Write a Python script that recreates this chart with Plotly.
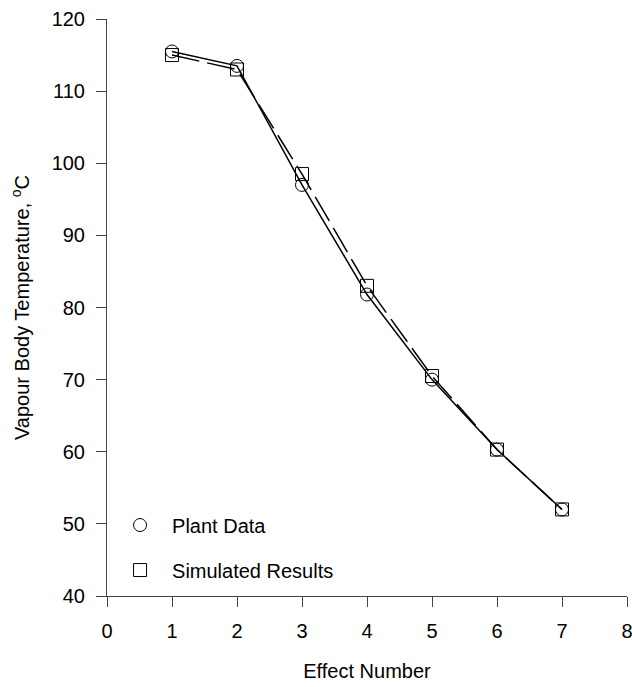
import plotly.graph_objects as go

effects = [1, 2, 3, 4, 5, 6, 7]
plant_data = [115.5, 113.5, 97.0, 81.8, 70.0, 60.3, 52.0]
simulated = [115.0, 113.0, 98.5, 83.0, 70.5, 60.3, 52.0]

x_ticks = [0, 1, 2, 3, 4, 5, 6, 7, 8]
y_ticks = [40, 50, 60, 70, 80, 90, 100, 110, 120]

FONT = "Arial, Liberation Sans, sans-serif"

fig = go.Figure()
fig.add_trace(go.Scatter(x=effects, y=plant_data, mode="lines",
                         line=dict(color="black", width=1.5), showlegend=False))
fig.add_trace(go.Scatter(x=effects, y=simulated, mode="lines",
                         line=dict(color="black", width=1.5, dash="28px,8px"), showlegend=False))
fig.add_trace(go.Scatter(x=effects, y=plant_data, mode="markers", name="Plant Data",
                         marker=dict(symbol="circle-open", size=13, color="black", line=dict(width=1)),
                         legend="legend"))
fig.add_trace(go.Scatter(x=effects, y=simulated, mode="markers", name="Simulated Results",
                         marker=dict(symbol="square-open", size=13, color="black", line=dict(width=1)),
                         legend="legend2"))

axis_common = dict(showline=True, linecolor="#444", linewidth=1, ticks="outside",
                   ticklen=10, tickcolor="#444", showgrid=False, zeroline=False,
                   ticklabelstandoff=7, ticklabeloverflow="allow", automargin=False,
                   tickfont=dict(family=FONT, size=20, color="black"))

fig.update_layout(
    width=632, height=687,
    margin=dict(l=107, r=5, t=19, b=91),
    plot_bgcolor="white", paper_bgcolor="white",
    xaxis=dict(range=[0, 8], tickvals=x_ticks,
               title=dict(text="Effect Number", font=dict(family=FONT, size=20, color="black"), standoff=22),
               **axis_common),
    yaxis=dict(range=[40, 120], tickvals=y_ticks,
               title=dict(text="Vapour Body Temperature, <sup>o</sup>C", font=dict(family=FONT, size=20, color="black"), standoff=16),
               **axis_common),
    legend=dict(x=0.002, y=0.123, xanchor="left", yanchor="middle", bgcolor="rgba(0,0,0,0)",
                font=dict(family=FONT, size=20, color="black"), itemwidth=54),
    legend2=dict(x=0.002, y=0.045, xanchor="left", yanchor="middle", bgcolor="rgba(0,0,0,0)",
                 font=dict(family=FONT, size=20, color="black"), itemwidth=54),
)

fig.write_html("out.html")
